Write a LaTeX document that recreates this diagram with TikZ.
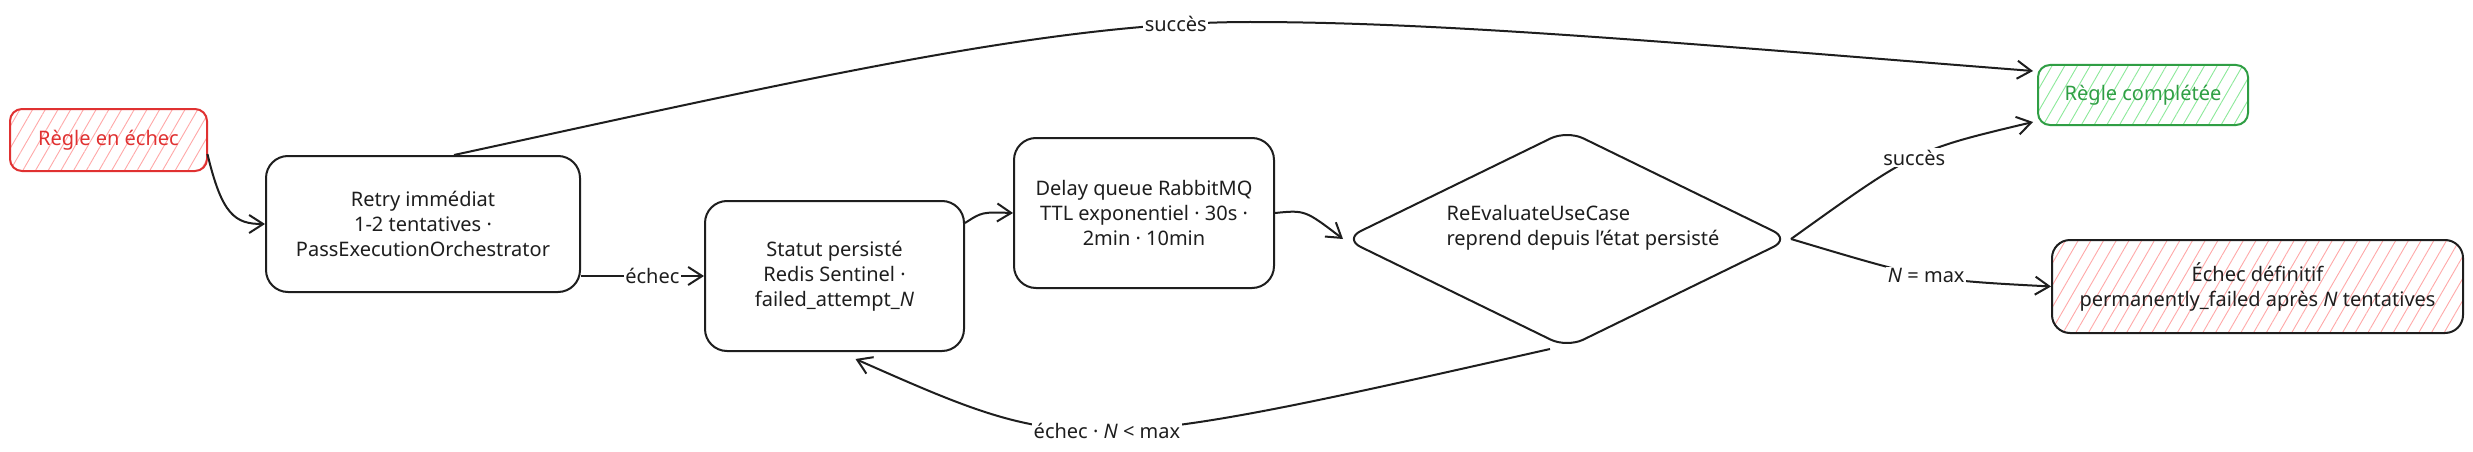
\documentclass[tikz,border=0pt]{standalone}
\usepackage{fontspec}
\setmainfont{Noto Sans}
\usetikzlibrary{arrows.meta,patterns.meta,shapes.geometric}
\definecolor{ink}{HTML}{1E1E1E}
\definecolor{xred}{HTML}{E03131}
\definecolor{xredfill}{HTML}{FFA8A8}
\definecolor{xgreen}{HTML}{2F9E44}
\definecolor{xgreenfill}{HTML}{8CE99A}
\begin{document}
\begin{tikzpicture}[x=1pt,y=-1pt,
  box/.style={draw=ink, line width=2pt, rounded corners=22pt, align=center,
    font=\fontsize{20}{25}\selectfont, inner sep=0pt, text=ink},
  hatch/.style={pattern={Lines[angle=60,distance=11pt,line width=0.9pt]}, pattern color=#1},
  conn/.style={draw=ink, line width=2pt, -{Straight Barb[length=14pt,width=18pt]}},
  elabel/.style={fill=white, inner sep=1.5pt, font=\fontsize{20}{22}\selectfont, text=ink}
]
\useasboundingbox[fill=white] (0,0) rectangle (2473,452);

% nodes
\node[box, draw=xred, text=xred, hatch=xredfill, rounded corners=12pt,
  minimum width=197pt, minimum height=62pt] (reg) at (108.5,140) {Règle en échec};
\node[box, minimum width=314pt, minimum height=136pt] (retry) at (423,224)
  {Retry immédiat\\1-2 tentatives ·\\PassExecutionOrchestrator};
\node[box, minimum width=259pt, minimum height=150pt] (statut) at (834.5,276)
  {Statut persisté\\Redis Sentinel ·\\failed\_attempt\_\textit{N}};
\node[box, minimum width=260pt, minimum height=150pt] (delay) at (1144,213)
  {Delay queue RabbitMQ\\TTL exponentiel · 30s ·\\2min · 10min};
\node[draw=ink, line width=2pt, diamond, minimum width=446pt, minimum height=218pt,
  rounded corners=18pt, inner sep=0pt,
  label={[align=left, font=\fontsize{20}{25}\selectfont, text=ink, xshift=16pt, yshift=11pt]center:ReEvaluateUseCase\\reprend depuis l'état persisté}]
  (dia) at (1567,239) {};
\node[box, draw=xgreen, text=xgreen, hatch=xgreenfill, rounded corners=12pt,
  minimum width=210pt, minimum height=60pt] (rc) at (2143,95) {Règle complétée};
\node[box, hatch=xredfill, rounded corners=18pt,
  minimum width=411pt, minimum height=93pt] (ech) at (2257.5,286.5)
  {Échec définitif\\permanently\_failed après \textit{N} tentatives};

% connectors
\draw[conn] ([yshift=-14pt]reg.east) .. controls (222,215) and (235,224) .. (retry.west);
\draw[conn] ([xshift=31pt]retry.north) .. controls (800,80) and (1050,22) .. (1250,22)
  node[pos=0.88, elabel]{succès}
  .. controls (1450,22) and (1700,45) .. ([xshift=-4pt,yshift=-7pt]rc.north west);
\draw[conn] (retry.east |- statut.west) -- node[elabel, pos=0.58]{échec} (statut.west);
\draw[conn] ([yshift=53pt]statut.east) .. controls (982,212) .. (delay.west);
\draw[conn] (delay.east) .. controls (1305,210) .. (dia.west);
\draw[conn] (dia.east) .. controls (1915,150) .. ([xshift=-4pt,yshift=4pt]rc.south west)
  node[pos=0.5, elabel]{succès};
\draw[conn] (dia.east) .. controls (1928,280) .. (ech.west)
  node[pos=0.5, elabel]{\textit{N} = max};
\draw[conn] ([xshift=-17pt]dia.south) .. controls (1075,456) .. ([xshift=21pt,yshift=-7pt]statut.south)
  node[pos=0.5, elabel]{échec · \textit{N} < max};
\end{tikzpicture}
\end{document}
